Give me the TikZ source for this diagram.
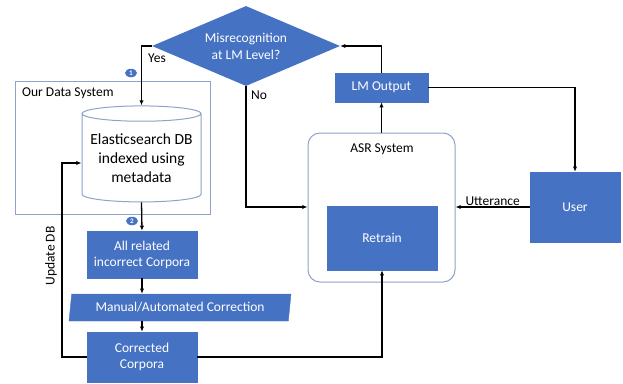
\documentclass[tikz,border=0pt]{standalone}
\usepackage{fontspec}
\setmainfont{Carlito}
\usetikzlibrary{arrows.meta,positioning,calc,shapes.geometric}
\definecolor{boxblue}{RGB}{70,114,196}
\definecolor{edgegray}{RGB}{143,163,200}
\tikzset{
  flowbox/.style={draw=boxblue,fill=boxblue,text=white,align=center,
    inner sep=1pt,font=\fontsize{13.5}{16}\selectfont},
  framebox/.style={draw=edgegray,line width=1pt,fill=white},
  flowarrow/.style={-{Latex[length=1.8mm,width=1.5mm]},line width=1.3pt,draw=black},
  flowlabel/.style={font=\fontsize{13.5}{16}\selectfont,inner sep=1pt},
  stepmark/.style={ellipse,fill=boxblue,text=white,inner sep=0pt,
    minimum width=12pt,minimum height=8.5pt,font=\fontsize{7}{7}\selectfont\bfseries},
}
\begin{document}
\begin{tikzpicture}[x=1pt,y=-1pt]
        \useasboundingbox (0,0) rectangle (623,383);
        % containers
        \node[framebox,minimum width=195pt,minimum height=133pt] (datasys) at (112.5,147.5) {};
        \node[flowlabel,anchor=west] (datalbl) at (21,93) {Our Data System};
        \node[framebox,rounded corners=12pt,minimum width=147pt,minimum height=149pt] (asr) at (381.5,207.5) {};
        \node[flowlabel] (asrlbl) at (382,149) {ASR System};
        % decision
        \node[diamond,fill=boxblue,text=white,align=center,inner sep=0pt,aspect=2.35,
          minimum width=188pt,minimum height=80pt,font=\fontsize{13.5}{17}\selectfont] (misrec) at (246,46)
          {Misrecognition\\at LM Level?};
        % database
        \node[cylinder,shape border rotate=90,draw=edgegray,line width=1pt,fill=white,aspect=0.15,
          minimum width=119pt,minimum height=96pt,align=center,inner sep=0pt,
          font=\fontsize{15.5}{19}\selectfont] (db) at (141.5,158)
          {Elasticsearch DB\\indexed using\\metadata};
        % boxes
        \node[flowbox,minimum width=110pt,minimum height=47pt] (incorrect) at (142,254.5)
          {All related\\incorrect Corpora};
        \node[trapezium,trapezium left angle=80,trapezium right angle=100,flowbox,
          minimum width=222pt,minimum height=27pt,trapezium stretches=true] (correction) at (180,307.5)
          {Manual/Automated Correction};
        \node[flowbox,minimum width=110pt,minimum height=50pt] (corrected) at (142,357)
          {Corrected\\Corpora};
        \node[flowbox,minimum width=110pt,minimum height=64pt] (retrain) at (382,238) {Retrain};
        \node[flowbox,minimum width=93pt,minimum height=29pt] (lmout) at (381.5,87.5) {LM Output};
        \node[flowbox,minimum width=90pt,minimum height=70pt] (user) at (575,207) {User};
        % step marks
        \node[stepmark] (mark1) at (131,73) {1};
        \node[stepmark] (mark2) at (132,221) {2};
        % labels on the connectors
        \node[flowlabel] (yeslbl) at (157,58) {Yes};
        \node[flowlabel] (nolbl) at (259,95) {No};
        \node[flowlabel,rotate=90] (updlbl) at (51,256) {Update DB};
        % connectors
        \draw[flowarrow] (misrec.west) -| (db.north);
        \draw[flowarrow] (misrec.south) |- (asr.west |- 0,207);
        \draw[flowarrow] (db.south) -- (incorrect.north);
        \draw[flowarrow] (incorrect.south) -- (incorrect.south |- correction.north);
        \draw[flowarrow] (incorrect.south |- correction.south) -- (corrected.north);
        \draw[flowarrow] (corrected.west) -| (62,163) -- (db.west |- 0,163);
        \draw[flowarrow] (corrected.east) -| (retrain.south);
        \draw[flowarrow] (asr.north) -- (lmout.south);
        \draw[flowarrow] (lmout.north) |- (misrec.east);
        \draw[flowarrow] (lmout.east) -| (user.north);
        \draw[flowarrow] (user.west) -- (asr.east |- user.west)
          node[midway,above,flowlabel] {Utterance};
      \end{tikzpicture}
\end{document}
